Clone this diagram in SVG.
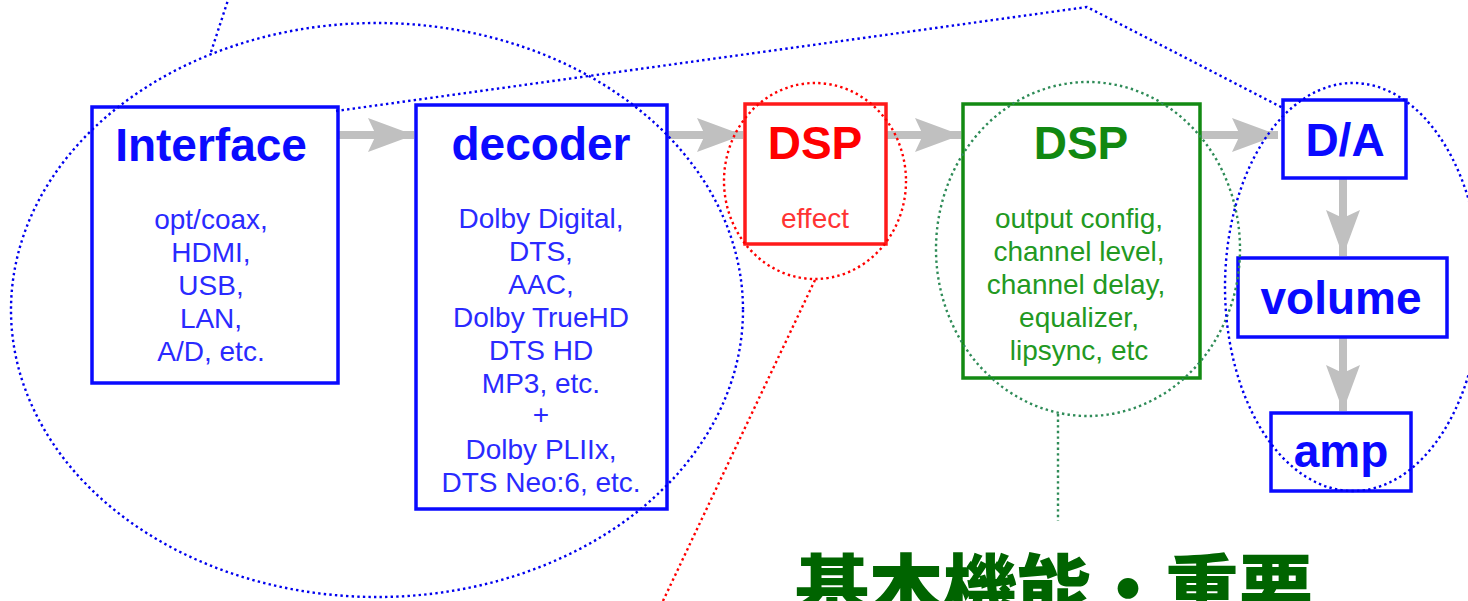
<svg xmlns="http://www.w3.org/2000/svg" width="1468" height="601" viewBox="0 0 1468 601">
  <style>
    .box { fill: #ffffff; stroke-width: 3.5; }
    .blue { stroke: #0a0aff; }
    .red { stroke: #ff1a1a; }
    .green { stroke: #138a13; }
    .title { font-family: "Liberation Sans", Arial, sans-serif; font-weight: bold; font-size: 46px; text-anchor: middle; }
    .body { font-family: "Liberation Sans", Arial, sans-serif; font-size: 28px; text-anchor: middle; }
    .tb { fill: #0a0aff; }
    .bb { fill: #2a2aff; }
    .tr { fill: #ff0000; }
    .br { fill: #ff3333; }
    .tg { fill: #118811; }
    .bg { fill: #229922; }
    .flow { stroke: #c0c0c0; stroke-width: 8; fill: none; marker-end: url(#head); }
    .dot { fill: none; stroke-width: 2.4; stroke-dasharray: 2.4 3.2; }
    .dblue { stroke: #0000ee; }
    .dred { stroke: #ff0000; }
    .dgreen { stroke: #2e8b57; }
  </style>
  <defs>
    <marker id="head" markerUnits="userSpaceOnUse" viewBox="0 0 46 34" markerWidth="46" markerHeight="34" refX="46" refY="17" orient="auto">
      <path d="M0,0 L46,17 L0,34 L8,17 Z" fill="#c0c0c0"/>
    </marker>
  </defs>

  <rect width="1468" height="601" fill="#ffffff"/>

  <!-- signal flow arrows -->
  <g id="connectors">
    <line class="flow" x1="338" y1="135" x2="414" y2="135"/>
    <line class="flow" x1="667" y1="135" x2="743" y2="135"/>
    <line class="flow" x1="886" y1="135" x2="961" y2="135"/>
    <line class="flow" x1="1200" y1="135" x2="1278" y2="135"/>
    <line class="flow" x1="1343" y1="178" x2="1343" y2="256"/>
    <line class="flow" x1="1343" y1="337" x2="1343" y2="411"/>
  </g>

  <g id="interface">
    <rect class="box blue" x="92" y="107" width="246" height="276"/>
    <text class="title tb" x="211" y="161">Interface</text>
    <text class="body bb" x="211" y="229">opt/coax,</text>
    <text class="body bb" x="211" y="262">HDMI,</text>
    <text class="body bb" x="211" y="295">USB,</text>
    <text class="body bb" x="211" y="328">LAN,</text>
    <text class="body bb" x="211" y="361">A/D, etc.</text>
  </g>

  <g id="decoder">
    <rect class="box blue" x="416" y="105" width="251" height="404"/>
    <text class="title tb" x="541" y="160">decoder</text>
    <text class="body bb" x="541" y="228">Dolby Digital,</text>
    <text class="body bb" x="541" y="261">DTS,</text>
    <text class="body bb" x="541" y="294">AAC,</text>
    <text class="body bb" x="541" y="327">Dolby TrueHD</text>
    <text class="body bb" x="541" y="360">DTS HD</text>
    <text class="body bb" x="541" y="393">MP3, etc.</text>
    <text class="body bb" x="541" y="424">+</text>
    <text class="body bb" x="541" y="459">Dolby PLIIx,</text>
    <text class="body bb" x="541" y="492">DTS Neo:6, etc.</text>
  </g>

  <g id="dsp-effect">
    <rect class="box red" x="745" y="104" width="141" height="140"/>
    <text class="title tr" x="815" y="159">DSP</text>
    <text class="body br" x="815" y="228">effect</text>
  </g>

  <g id="dsp-output">
    <rect class="box green" x="963" y="104" width="237" height="274"/>
    <text class="title tg" x="1081" y="159">DSP</text>
    <text class="body bg" x="1079" y="228">output config,</text>
    <text class="body bg" x="1079" y="261">channel level,</text>
    <text class="body bg" x="1076" y="294">channel delay,</text>
    <text class="body bg" x="1079" y="327">equalizer,</text>
    <text class="body bg" x="1079" y="360">lipsync, etc</text>
  </g>

  <g id="da">
    <rect class="box blue" x="1283" y="100" width="123" height="78"/>
    <text class="title tb" x="1345" y="156">D/A</text>
  </g>

  <g id="volume">
    <rect class="box blue" x="1238" y="258" width="209" height="79"/>
    <text class="title tb" x="1341" y="314">volume</text>
  </g>

  <g id="amp">
    <rect class="box blue" x="1271" y="413" width="140" height="78"/>
    <text class="title tb" x="1341" y="467">amp</text>
  </g>

  <!-- dotted grouping outlines and callout lines -->
  <g id="callouts">
    <ellipse class="dot dblue" cx="377" cy="310" rx="366" ry="287"/>
    <line class="dot dblue" x1="211" y1="52" x2="229" y2="-3"/>
    <polyline class="dot dblue" points="336,111 1087,7 1283,108"/>
    <ellipse class="dot dred" cx="815" cy="181" rx="91" ry="98"/>
    <line class="dot dred" x1="815" y1="280" x2="662" y2="603"/>
    <ellipse class="dot dgreen" cx="1088" cy="249" rx="152" ry="167"/>
    <line class="dot dgreen" x1="1058" y1="414" x2="1058" y2="521"/>
    <ellipse class="dot dblue" cx="1353" cy="287" rx="128" ry="204"/>
  </g>

  <g id="caption">
    <text x="795" y="616" font-family="'Noto Sans CJK JP', 'Noto Sans CJK SC', sans-serif" font-weight="900" font-size="74" fill="#006400">基本機能・重要</text>
  </g>
</svg>
